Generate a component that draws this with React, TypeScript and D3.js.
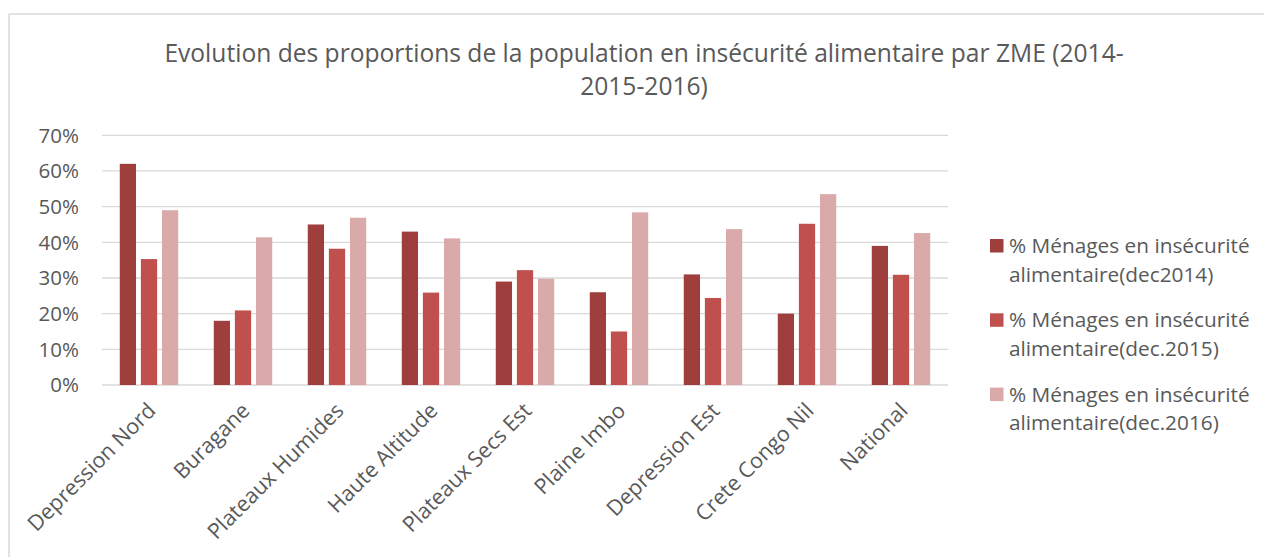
import React from "react";
import * as d3 from "d3";

const categories = [
  "Depression Nord",
  "Buragane",
  "Plateaux Humides",
  "Haute Altitude",
  "Plateaux Secs Est",
  "Plaine Imbo",
  "Depression Est",
  "Crete Congo Nil",
  "National",
];
const seriesNames = [
  "% Ménages en insécurité alimentaire(dec2014)",
  "% Ménages en insécurité alimentaire(dec.2015)",
  "% Ménages en insécurité alimentaire(dec.2016)",
];
const legendLines = [
  ["% Ménages en insécurité", "alimentaire(dec2014)"],
  ["% Ménages en insécurité", "alimentaire(dec.2015)"],
  ["% Ménages en insécurité", "alimentaire(dec.2016)"],
];
const dec2014 = [62, 18, 45, 43, 29, 26, 31, 20, 39];
const dec2015 = [35.3, 20.9, 38.2, 25.9, 32.2, 15.0, 24.4, 45.2, 30.9];
const dec2016 = [49.0, 41.4, 46.9, 41.1, 29.8, 48.4, 43.7, 53.5, 42.6];
const seriesValues = [dec2014, dec2015, dec2016];
const yTicks = [0, 10, 20, 30, 40, 50, 60, 70];
const colors = ["#9E3F3E", "#C0504D", "#DAA9A9"];
const titleLines = [
  "Evolution des proportions de la population en insécurité alimentaire par ZME (2014-",
  "2015-2016)",
];

const FONT = "'Open Sans', sans-serif";
const TXT = "#595959";

export default function App() {
  const W = 1264;
  const H = 557;
  const left = 102;
  const right = 948;
  const top = 135.3;
  const bottom = 385;

  const x0 = d3
    .scaleBand<string>()
    .domain(categories)
    .range([left, right])
    .paddingInner(0.378)
    .paddingOuter(0.189);
  const x1 = d3
    .scaleBand<number>()
    .domain([0, 1, 2])
    .range([0, x0.bandwidth()])
    .paddingInner(0.23);
  const y = d3.scaleLinear().domain([0, 70]).range([bottom, top]);

  return (
    <svg
      width={W}
      height={H}
      style={{ position: "absolute", left: 0, top: 0, background: "#fff" }}
      fontFamily={FONT}
    >
      <rect x={0} y={0} width={W} height={H} fill="#fff" />
      {/* chart border */}
      <line x1={9} y1={14} x2={W} y2={14} stroke="#D9D9D9" strokeWidth={1.5} />
      <line x1={9} y1={14} x2={9} y2={H} stroke="#D9D9D9" strokeWidth={1.5} />

      {titleLines.map((t, i) => (
        <text
          key={i}
          x={644}
          y={62 + i * 33}
          textAnchor="middle"
          fontSize={24.6}
          fill={TXT}
        >
          {t}
        </text>
      ))}

      {yTicks.map((t) => (
        <g key={t}>
          <line
            x1={left}
            x2={right}
            y1={y(t)}
            y2={y(t)}
            stroke="#D9D9D9"
            strokeWidth={1.3}
          />
          <text
            x={79}
            y={y(t)}
            dy="0.36em"
            textAnchor="end"
            fontSize={20.5}
            fill={TXT}
          >
            {t}%
          </text>
        </g>
      ))}

      {seriesValues.map((vals, si) =>
        vals.map((v, ci) => (
          <rect
            key={`${si}-${ci}`}
            x={(x0(categories[ci]) as number) + (x1(si) as number)}
            y={y(v)}
            width={x1.bandwidth()}
            height={bottom - y(v)}
            fill={colors[si]}
          />
        ))
      )}

      {categories.map((c) => {
        const cx = (x0(c) as number) + x0.bandwidth() / 2;
        return (
          <text
            key={c}
            transform={`translate(${cx + 8},${412}) rotate(-45)`}
            textAnchor="end"
            fontSize={21.5}
            fill={TXT}
          >
            {c}
          </text>
        );
      })}

      {seriesNames.map((s, i) => {
        const by = 253 + i * 74.3;
        return (
          <g key={s}>
            <rect x={990} y={by - 14} width={13.5} height={13.5} fill={colors[i]} />
            {legendLines[i].map((ln, li) => (
              <text key={li} x={1009} y={by + li * 28.5} fontSize={20.8} fill={TXT}>
                {ln}
              </text>
            ))}
          </g>
        );
      })}
    </svg>
  );
}
